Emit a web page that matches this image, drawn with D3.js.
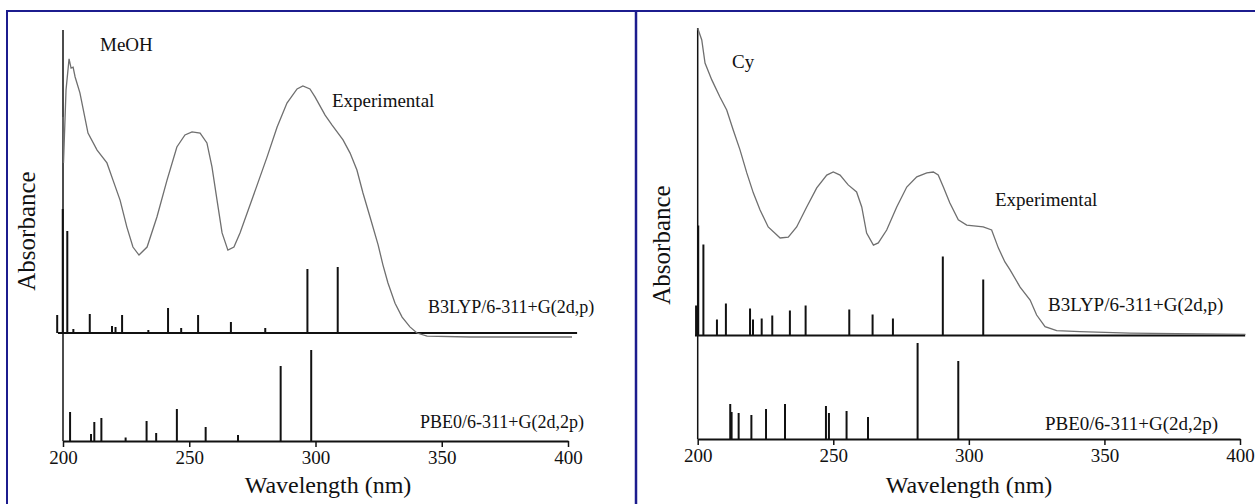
<!DOCTYPE html>
<html>
<head>
<meta charset="utf-8">
<script src="https://cdn.jsdelivr.net/npm/d3@7"></script>
<style>
  body { margin: 0; background: #fff; }
  svg { display: block; }
</style>
</head>
<body>
<svg id="chart" width="1255" height="504"></svg>
<script>
const serif = "'Liberation Serif', 'Times New Roman', Tinos, 'DejaVu Serif', serif";

// tick labels (nm)
const xTicks = [200, 250, 300, 350, 400];

// MeOH experimental spectrum [nm, absorbance a.u.]
const expMeOH = [
  [200.0, 0.717], [200.2, 0.567], [201.2, 0.805], [202.4, 0.906], [203.2, 0.876], [204.0, 0.879],
  [204.8, 0.847], [206.7, 0.795], [209.9, 0.664], [213.5, 0.609], [217.4, 0.567], [219.8, 0.511],
  [222.6, 0.446], [225.3, 0.358], [227.7, 0.293], [230.1, 0.267], [233.3, 0.293], [237.2, 0.391],
  [241.2, 0.511], [245.1, 0.619], [248.3, 0.658], [251.1, 0.668], [254.3, 0.664], [257.0, 0.632],
  [259.0, 0.554], [261.0, 0.446], [263.0, 0.339], [265.3, 0.283], [267.7, 0.293], [270.1, 0.339],
  [275.2, 0.456], [280.8, 0.586], [284.8, 0.684], [288.7, 0.762], [292.7, 0.808], [295.0, 0.818],
  [297.8, 0.808], [299.8, 0.782], [303.8, 0.723], [306.5, 0.691], [310.9, 0.642], [313.7, 0.599],
  [316.4, 0.544], [318.8, 0.469], [321.6, 0.391], [324.8, 0.300], [326.7, 0.235], [328.7, 0.176],
  [331.5, 0.110], [334.3, 0.065], [337.4, 0.033], [340.2, 0.013], [344.2, 0.003], [361.2, 0.0],
  [401.6, 0.0]
];
// MeOH computed transitions [nm, relative oscillator strength]
const b3lypMeOH = [
  [197.7, 0.18], [199.9, 1.24], [201.7, 1.02], [204.1, 0.04], [210.6, 0.19], [219.4, 0.07],
  [220.8, 0.06], [223.4, 0.18], [233.8, 0.03], [241.6, 0.25], [246.8, 0.05], [253.5, 0.18],
  [266.5, 0.11], [280.1, 0.05], [296.8, 0.64], [308.8, 0.66]
];
const pbe0MeOH = [
  [202.8, 0.29], [211.1, 0.07], [212.4, 0.19], [215.2, 0.23], [224.8, 0.035], [233.1, 0.20],
  [236.9, 0.08], [245.1, 0.32], [256.5, 0.14], [269.3, 0.06], [286.2, 0.75], [298.3, 0.91]
];

// Cyclohexane experimental spectrum
const expCy = [
  [200.0, 0.999], [201.5, 0.961], [202.7, 0.886], [205.2, 0.831], [208.2, 0.775], [210.7, 0.733],
  [213.1, 0.668], [215.6, 0.603], [218.1, 0.528], [220.5, 0.463], [223.0, 0.407], [226.0, 0.352],
  [230.4, 0.316], [233.4, 0.319], [236.5, 0.352], [240.2, 0.417], [243.9, 0.479], [247.6, 0.521],
  [250.0, 0.531], [252.5, 0.521], [255.5, 0.489], [258.6, 0.466], [260.5, 0.417], [262.3, 0.332],
  [264.8, 0.293], [266.6, 0.300], [269.7, 0.342], [273.4, 0.417], [277.1, 0.482], [280.8, 0.515],
  [284.5, 0.528], [286.9, 0.531], [288.7, 0.521], [290.6, 0.482], [293.0, 0.430], [296.1, 0.375],
  [299.2, 0.358], [305.3, 0.352], [308.4, 0.342], [310.9, 0.283], [313.3, 0.238], [315.2, 0.212],
  [318.9, 0.156], [322.6, 0.114], [325.0, 0.065], [328.1, 0.027], [332.4, 0.014], [341.0, 0.011],
  [359.4, 0.006], [402.0, 0.002]
];
const b3lypCy = [
  [199.4, 0.30], [200.2, 1.10], [202.1, 0.91], [207.1, 0.16], [210.4, 0.32], [219.3, 0.27],
  [220.4, 0.16], [223.6, 0.17], [227.5, 0.20], [234.0, 0.25], [239.8, 0.30], [255.9, 0.26],
  [264.5, 0.21], [272.0, 0.17], [290.4, 0.79], [305.3, 0.56]
];
const pbe0Cy = [
  [212.0, 0.35], [212.5, 0.27], [215.1, 0.26], [219.8, 0.24], [225.2, 0.30], [232.2, 0.35],
  [247.3, 0.33], [248.4, 0.26], [254.9, 0.28], [262.8, 0.22], [281.1, 0.96], [296.1, 0.78]
];

const svg = d3.select("#chart");
svg.append("rect").attr("width", 1255).attr("height", 504).attr("fill", "#fff");

function drawPanel(p) {
  const g = svg.append("g");
  const x = d3.scaleLinear().domain([200, 400]).range([p.x0, p.x1]);
  const yExp = d3.scaleLinear().domain([0, 1]).range([p.expBase, p.top]);
  const yB3 = d3.scaleLinear().domain([0, 1]).range([p.b3Base, p.b3Base - 100]);
  const yPb = d3.scaleLinear().domain([0, 1]).range([p.pbBase, p.pbBase - 100]);

  // vertical line at 200 nm
  g.append("line")
    .attr("x1", x(200)).attr("x2", x(200))
    .attr("y1", p.top).attr("y2", p.pbBase)
    .attr("stroke", "#111").attr("stroke-width", 1.5);

  // B3LYP stick baseline
  g.append("line")
    .attr("x1", x(p.b3From)).attr("x2", x(p.b3To))
    .attr("y1", p.b3Base).attr("y2", p.b3Base)
    .attr("stroke", "#111").attr("stroke-width", 1.8);

  // experimental curve
  g.append("path")
    .datum(p.exp)
    .attr("fill", "none")
    .attr("stroke", "#6f6f6f")
    .attr("stroke-width", 1.3)
    .attr("d", d3.line().x(d => x(d[0])).y(d => yExp(d[1])));

  // sticks
  g.selectAll(".b3").data(p.b3).enter().append("line")
    .attr("x1", d => x(d[0])).attr("x2", d => x(d[0]))
    .attr("y1", p.b3Base).attr("y2", d => yB3(d[1]))
    .attr("stroke", "#111").attr("stroke-width", 2);

  g.selectAll(".pb").data(p.pb).enter().append("line")
    .attr("x1", d => x(d[0])).attr("x2", d => x(d[0]))
    .attr("y1", p.pbBase).attr("y2", d => yPb(d[1]))
    .attr("stroke", "#111").attr("stroke-width", 2);

  // bottom axis
  const ax = g.append("g")
    .attr("transform", `translate(0,${p.pbBase})`)
    .call(d3.axisBottom(x).tickValues(xTicks).tickSize(6).tickSizeOuter(0).tickPadding(4));
  ax.attr("font-family", serif).attr("font-size", 19);
  ax.select(".domain").attr("stroke", "#111").attr("stroke-width", 1.8);
  ax.selectAll(".tick line").attr("stroke", "#111").attr("stroke-width", 1.5);
  ax.selectAll("text").attr("fill", "#111");

  // axis titles
  g.append("text")
    .attr("x", p.xTitleX).attr("y", 493)
    .attr("text-anchor", "middle")
    .attr("font-family", serif).attr("font-size", 24).attr("fill", "#111")
    .text("Wavelength (nm)");

  g.append("text")
    .attr("transform", `translate(${p.yTitleX},${p.yTitleY}) rotate(-90)`)
    .attr("text-anchor", "middle")
    .attr("font-family", serif).attr("font-size", 25).attr("fill", "#111")
    .text("Absorbance");

  // labels
  p.labels.forEach(l => {
    g.append("text")
      .attr("x", l[1]).attr("y", l[2])
      .attr("font-family", serif).attr("font-size", l[3]).attr("fill", "#111")
      .text(l[0]);
  });
}

drawPanel({
  x0: 63, x1: 568, top: 30, expBase: 337, b3Base: 333, pbBase: 441,
  b3From: 198, b3To: 403.6,
  exp: expMeOH, b3: b3lypMeOH, pb: pbe0MeOH,
  xTitleX: 328, yTitleX: 35, yTitleY: 231,
  labels: [
    ["MeOH", 100, 51, 19],
    ["Experimental", 332, 107, 19],
    ["B3LYP/6-311+G(2d,p)", 428, 313, 18],
    ["PBE0/6-311+G(2d,2p)", 420, 428, 18]
  ]
});

drawPanel({
  x0: 697.7, x1: 1240, top: 28, expBase: 335, b3Base: 335.5, pbBase: 439,
  b3From: 199, b3To: 401.9,
  exp: expCy, b3: b3lypCy, pb: pbe0Cy,
  xTitleX: 969, yTitleX: 670, yTitleY: 245,
  labels: [
    ["Cy", 732, 68, 19],
    ["Experimental", 995, 206, 19],
    ["B3LYP/6-311+G(2d,p)", 1048, 311, 19],
    ["PBE0/6-311+G(2d,2p)", 1045, 430, 19]
  ]
});

// blue frame
const frame = "#1c1c8e";
svg.append("line").attr("x1", 6).attr("x2", 1255).attr("y1", 11).attr("y2", 11)
  .attr("stroke", frame).attr("stroke-width", 2);
svg.append("line").attr("x1", 7).attr("x2", 7).attr("y1", 11).attr("y2", 504)
  .attr("stroke", frame).attr("stroke-width", 2);
svg.append("line").attr("x1", 636).attr("x2", 636).attr("y1", 11).attr("y2", 504)
  .attr("stroke", frame).attr("stroke-width", 2.5);
</script>
</body>
</html>
